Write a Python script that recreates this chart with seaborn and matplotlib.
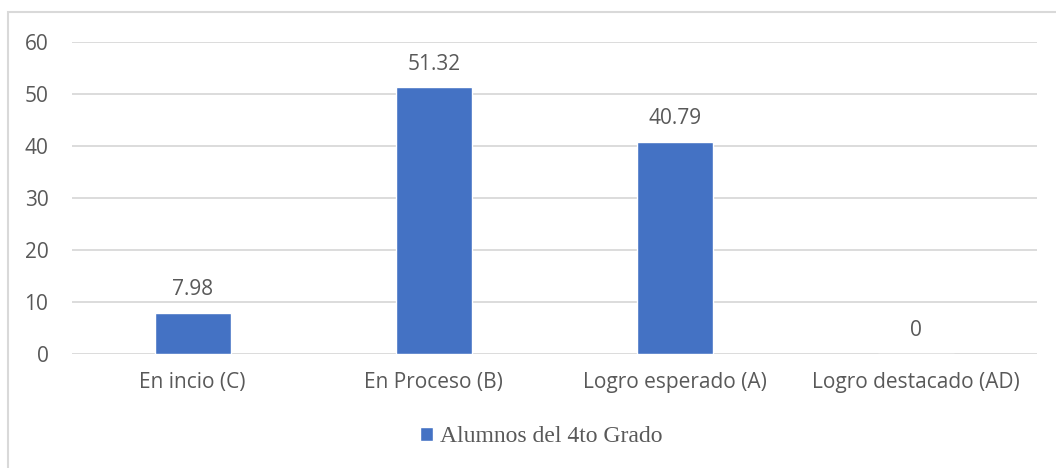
import matplotlib
matplotlib.use("Agg")
import matplotlib.pyplot as plt
import seaborn as sns
import pandas as pd
from matplotlib.patches import Rectangle

# Data
niveles = ["En incio (C)", "En Proceso (B)", "Logro esperado (A)", "Logro destacado (AD)"]
porcentajes = [7.98, 51.32, 40.79, 0]
etiquetas = ["7.98", "51.32", "40.79", "0"]
serie = "Alumnos del 4to Grado"

df = pd.DataFrame({"Nivel": niveles, "Porcentaje": porcentajes})

sns.set_style("white")
plt.rcParams["font.family"] = ["Open Sans", "DejaVu Sans"]

azul = "#4472C4"
gris_texto = "#595959"
gris_linea = "#d9d9d9"

fig = plt.figure(figsize=(10.56, 4.68), dpi=100)
ax = fig.add_axes([72 / 1056, 1 - 354 / 468, (1037 - 72) / 1056, (354 - 42) / 468])

sns.barplot(data=df, x="Nivel", y="Porcentaje", color=azul, width=0.315,
            saturation=1, ax=ax, label=serie)

ax.set_ylim(0, 60)
ax.set_xlim(-0.5, 3.5)
ax.set_yticks(range(0, 61, 10))
ax.yaxis.grid(True, color=gris_linea, lw=1.3)
ax.set_axisbelow(True)
for s in ax.spines.values():
    s.set_visible(False)
ax.tick_params(axis="both", length=0, labelsize=15, colors=gris_texto)
ax.tick_params(axis="y", pad=17)
ax.tick_params(axis="x", pad=13)
ax.set_xlabel("")
ax.set_ylabel("")

for i, (v, t) in enumerate(zip(porcentajes, etiquetas)):
    ax.annotate(t, (i, v), xytext=(0, 9), textcoords="offset points",
                ha="center", va="bottom", fontsize=15, color=gris_texto)

leg = ax.legend(loc="center", bbox_to_anchor=(541 / 1056, (468 - 437) / 468),
                bbox_transform=fig.transFigure, frameon=False,
                handlelength=0.55, handleheight=0.55, handletextpad=0.3,
                prop={"family": "Liberation Serif", "size": 17})
for t in leg.get_texts():
    t.set_color(gris_texto)

# chart border (Excel style), right/bottom edges fall outside the picture
fig.patches.append(Rectangle((8 / 1056, -0.1), 1.2, 1 - 12 / 468 + 0.1,
                             transform=fig.transFigure, fill=False,
                             edgecolor=gris_linea, lw=1.5))

fig.savefig("out.png", dpi=100)
